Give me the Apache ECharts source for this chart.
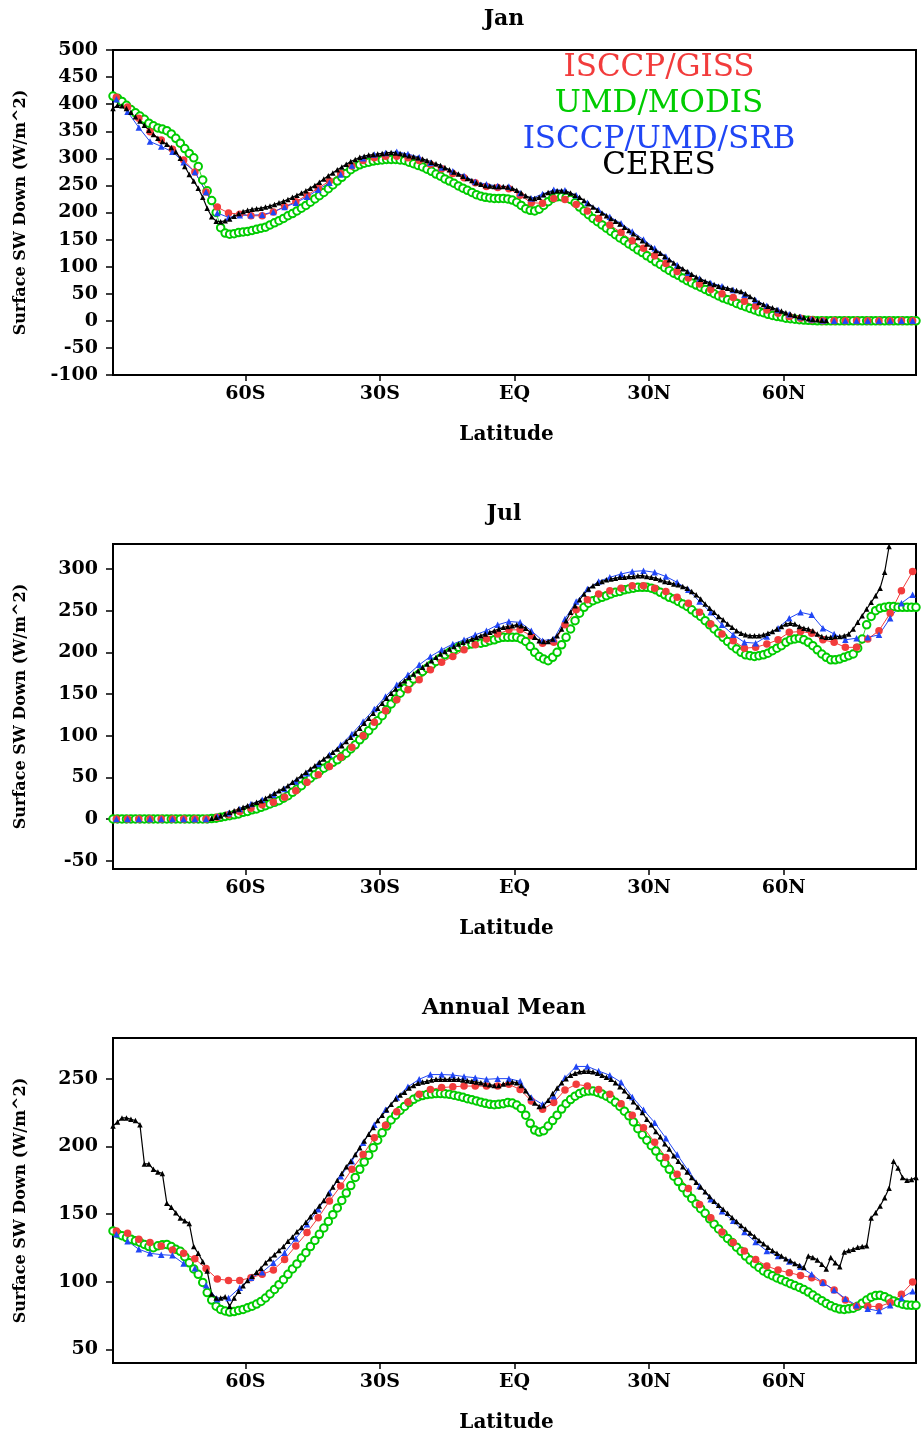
<!DOCTYPE html>
<html><head><meta charset="utf-8">
<script src="https://cdn.jsdelivr.net/npm/echarts@6/dist/echarts.min.js"></script>
<style>html,body{margin:0;padding:0;background:#fff}#c{width:924px;height:1439px}</style>
</head><body><div id="c"></div>
<script>
// ---- labels ----
const seriesNames = ['ISCCP/GISS', 'UMD/MODIS', 'ISCCP/UMD/SRB', 'CERES'];
const panelTitles = ['Jan', 'Jul', 'Annual Mean'];
const xTickValues = [-60, -30, 0, 30, 60];
const xTickLabels = ['60S', '30S', 'EQ', '30N', '60N'];
const yTicksJan = [-100, -50, 0, 50, 100, 150, 200, 250, 300, 350, 400, 450, 500];
const yTicksJul = [-50, 0, 50, 100, 150, 200, 250, 300];
const yTicksAnn = [50, 100, 150, 200, 250];
const xAxisTitle = 'Latitude';
const yAxisTitle = 'Surface SW Down (W/m^2)';

// latitude grids (1 degree and 2.5 degree cell centres)
const lat1 = Array.from({length: 180}, (_, i) => -89.5 + i);
const lat25 = Array.from({length: 72}, (_, i) => -88.75 + 2.5 * i);

// ---- Jan ----
const janGISS = [
  413, 395, 374, 349, 334, 317, 297, 275, 238, 210,
  199, 197, 194, 194, 201, 211, 220, 232, 245, 258,
  272, 286, 296, 301, 304, 304, 301, 296, 289, 281,
  272, 264, 255, 248, 246, 244, 232, 218, 217, 226,
  224, 215, 203, 189, 177, 163, 148, 134, 120, 106,
  91, 79, 68, 58, 50, 43, 36, 27, 20, 14,
  8, 5, 2, 0, 0, 0, 0, 0, 0, 0,
  0, 0];
const janMODIS = [
  415, 411, 405, 398, 390, 384, 378, 372, 365, 360,
  356, 354, 351, 345, 337, 328, 318, 309, 301, 285,
  260, 240, 222, 200, 172, 162, 160, 161, 163, 164,
  165, 167, 169, 171, 173, 177, 181, 185, 189, 194,
  198, 203, 208, 213, 219, 225, 231, 237, 244, 251,
  258, 265, 272, 279, 284, 288, 291, 293, 295, 296,
  297, 298, 298, 298, 297, 296, 293, 290, 287, 284,
  280, 276, 271, 267, 262, 258, 254, 249, 245, 241,
  237, 233, 230, 228, 227, 226, 226, 226, 225, 223,
  219, 213, 207, 204, 203, 206, 213, 220, 226, 229,
  229, 228, 224, 218, 210, 203, 196, 189, 183, 177,
  171, 165, 159, 153, 148, 142, 137, 131, 126, 120,
  115, 109, 104, 98, 93, 88, 84, 79, 74, 70,
  66, 62, 58, 54, 50, 46, 42, 39, 36, 32,
  29, 26, 23, 20, 17, 15, 12, 10, 8, 7,
  5, 4, 3, 2, 1.5, 1, 0.5, 0, 0, 0,
  0, 0, 0, 0, 0, 0, 0, 0, 0, 0,
  0, 0, 0, 0, 0, 0, 0, 0, 0, 0];
const janSRB = [
  409, 386, 357, 331, 322, 312, 293, 275, 238, 199,
  191, 195, 195, 196, 201, 210, 218, 229, 242, 255,
  270, 287, 300, 307, 310, 312, 308, 302, 292, 283,
  276, 268, 257, 252, 249, 248, 236, 226, 234, 242,
  241, 232, 218, 205, 192, 180, 165, 150, 134, 119,
  103, 89, 78, 70, 64, 57, 48, 38, 28, 20,
  12, 7, 3, 0.5, 0, 0, 0, 0, 0, 0,
  0, 0];
const janCERES = [
  392, 398, 397, 392, 385, 377, 369, 361, 352, 344,
  337, 331, 326, 320, 312, 300, 285, 270, 258, 245,
  228, 208, 192, 184, 183, 185, 188, 193, 198, 202,
  204, 206, 207, 208, 210, 212, 215, 218, 221, 224,
  228, 232, 236, 240, 245, 250, 256, 262, 268, 273,
  279, 284, 289, 294, 298, 302, 304, 306, 307, 308,
  309, 310, 311, 310, 309, 307, 305, 303, 301, 299,
  296, 293, 290, 287, 283, 279, 275, 271, 267, 263,
  259, 255, 252, 250, 249, 248, 248, 248, 247, 245,
  241, 236, 231, 227, 226, 228, 233, 237, 239, 240,
  240, 239, 236, 232, 228, 222, 216, 210, 204, 199,
  194, 189, 184, 179, 173, 167, 161, 154, 148, 142,
  136, 130, 125, 119, 113, 107, 101, 96, 91, 86,
  81, 77, 73, 70, 67, 64, 62, 60, 58, 56,
  54, 50, 45, 40, 34, 30, 27, 24, 21, 18,
  15, 12, 10, 8, 6, 4, 3, 2, 1, 0.5,
  null, null, null, null, null, null, null, null, null, null,
  null, null, null, null, null, null, null, null, null, null];

// ---- Jul ----
const julGISS = [
  0, 0, 0, 0, 0, 0, 0, 0, 0, 2,
  5, 9, 13, 17, 20, 26, 34, 44, 53, 63,
  74, 86, 100, 116, 130, 143, 155, 167, 179, 188,
  195, 203, 209, 216, 222, 227, 227, 220, 211, 212,
  233, 251, 263, 270, 274, 277, 280, 280, 277, 273,
  266, 259, 248, 234, 222, 214, 205, 206, 210, 215,
  224, 225, 223, 215, 212, 206, 206, 216, 226, 247,
  274, 297];
const julMODIS = [
  0, 0, 0, 0, 0, 0, 0, 0, 0, 0,
  0, 0, 0, 0, 0, 0, 0, 0, 0, 0,
  0, 0, 0.5, 1, 2, 3, 4, 5, 6, 8,
  9, 11, 12, 14, 16, 18, 20, 22, 25, 28,
  32, 36, 40, 45, 49, 53, 57, 61, 64, 68,
  71, 75, 79, 84, 89, 95, 100, 106, 112, 118,
  124, 131, 138, 144, 151, 157, 163, 168, 173, 177,
  181, 185, 189, 193, 197, 200, 203, 206, 208, 209,
  210, 211, 211, 212, 214, 215, 217, 218, 218, 218,
  218, 216, 213, 207, 200, 195, 192, 190, 194, 200,
  209, 218, 228, 238, 247, 254, 259, 262, 264, 266,
  268, 270, 272, 273, 275, 276, 277, 278, 278, 278,
  277, 275, 272, 269, 266, 264, 261, 258, 255, 251,
  247, 243, 238, 233, 228, 223, 218, 213, 208, 204,
  200, 197, 196, 195, 196, 197, 199, 202, 205, 208,
  212, 215, 216, 217, 215, 212, 208, 203, 198, 194,
  191, 191, 192, 194, 196, 198, 205, 216, 233, 243,
  250, 253, 254, 255, 255, 254, 254, 254, 254, 254];
const julSRB = [
  0, 0, 0, 0, 0, 0, 0, 0, 0, 3,
  7, 12, 18, 23, 29, 36, 45, 55, 66, 77,
  89, 102, 117, 132, 147, 161, 173, 185, 195, 203,
  210, 215, 221, 226, 233, 237, 236, 226, 214, 216,
  240, 261, 276, 285, 290, 294, 297, 298, 296, 291,
  284, 275, 261, 248, 233, 221, 212, 211, 219, 229,
  241, 248, 245, 229, 222, 215, 217, 218, 221, 241,
  259, 269];
const julCERES = [
  null, null, null, null, null, null, null, null, null, null,
  null, null, null, null, null, null, null, null, null, null,
  null, null, 1, 2, 4, 6, 8, 10, 12, 14,
  16, 18, 20, 22, 25, 28, 31, 34, 37, 40,
  44, 48, 52, 56, 60, 64, 68, 72, 76, 80,
  84, 88, 93, 98, 103, 109, 115, 121, 127, 133,
  139, 145, 151, 156, 162, 166, 170, 174, 178, 182,
  186, 190, 194, 198, 201, 204, 207, 210, 212, 214,
  216, 218, 220, 222, 224, 226, 228, 230, 231, 232,
  233, 232, 229, 224, 218, 214, 213, 213, 216, 220,
  228, 238, 248, 256, 263, 270, 276, 280, 283, 285,
  287, 288, 289, 290, 290, 291, 291, 292, 292, 291,
  290, 289, 287, 285, 284, 282, 281, 279, 277, 273,
  269, 264, 258, 253, 248, 243, 239, 234, 230, 226,
  223, 221, 220, 220, 220, 221, 223, 225, 228, 231,
  234, 235, 234, 231, 229, 228, 226, 222, 219, 218,
  218, 219, 219, 220, 222, 228, 236, 244, 252, 260,
  268, 277, 296, 327, null, null, null, null, null, null];

// ---- Annual Mean ----
const annGISS = [
  137.5, 135.8, 131.3, 129, 126.4, 123.4, 121, 117, 109.7, 102,
  101, 101, 103, 105.5, 108.6, 116.5, 126.4, 136.3, 147.3, 159.6,
  170.7, 183, 194, 206.4, 215.5, 225.5, 232.7, 238.4, 242, 243.4,
  244, 244.5, 244.5, 244.5, 244.5, 245.8, 242, 233.5, 227.3, 232.3,
  241.6, 245.8, 244.5, 242, 238.5, 231.5, 223, 213.8, 203, 191.7,
  179.3, 168.8, 157, 147.3, 136.7, 128.9, 122.7, 116.5, 111.6, 108.6,
  106.7, 104.7, 103, 99.3, 93.9, 86.5, 82, 82, 81.6, 84.6,
  90.7, 99.8];
const annMODIS = [
  137.5, 135.5, 134, 132.6, 131.4, 130.2, 129, 127.5, 126, 125.2,
  126.5, 127.3, 127.6, 126, 124, 122.5, 118.5, 114, 109.5, 105.5,
  99.5, 92, 86.5, 82, 79.5, 78.4, 77.6, 78, 78.8, 79.6,
  80.8, 82, 83.5, 85.5, 88, 91, 94.3, 97.8, 101.5, 105.5,
  109.5, 113.2, 117.5, 121.5, 126, 130.5, 135, 139.7, 144.5, 149.5,
  154.5, 160, 165.5, 171, 177, 183, 188.5, 193.5, 199, 204.5,
  210, 215, 219.5, 223, 226.5, 229.5, 232.3, 234.7, 236.5, 237.5,
  238.2, 238.6, 239, 239, 238.8, 238.4, 237.8, 237, 236.2, 235.2,
  234.4, 233.5, 232.6, 231.8, 231, 230.8, 231, 231.5, 232.3, 232,
  230.5, 228, 223, 217, 212, 210.5, 211.5, 215, 219, 223,
  227.5, 231.5, 234.5, 237, 239, 240.3, 240.8, 240.8, 239.8, 238.6,
  237, 235, 232.5, 229.5, 226, 222.5, 218, 213, 208.5, 204.5,
  200.5, 196.5, 192, 187.5, 183, 178, 174, 169.5, 165.5, 161.5,
  157.5, 154, 150.5, 146.5, 142.5, 139, 135.5, 132, 129, 125.5,
  122.5, 119, 116, 113.2, 110.6, 108, 106, 104.5, 102.8, 101.4,
  100, 98.6, 97.2, 95.8, 94.2, 92.4, 90.2, 88, 86, 84,
  82.2, 80.8, 79.8, 79.6, 80, 80.5, 82, 84.2, 86.5, 88.6,
  89.8, 90, 89, 87.2, 85.8, 84.5, 83.4, 82.8, 82.6, 82.6];
const annSRB = [
  135, 130, 124, 121, 120, 119.5, 113.4, 110, 97.5, 87,
  88, 95.6, 103, 107, 114, 121.5, 132, 142.4, 153.5, 166,
  178, 189, 202.7, 216, 227, 236, 244, 249.5, 253, 253,
  252.7, 251.5, 250.7, 249.5, 250, 250, 248, 236, 231, 237,
  250.7, 259, 259, 255.6, 252.5, 247.3, 236.5, 227, 217.5, 206,
  194, 182, 170.7, 161, 152, 145, 136.7, 129.3, 122.7, 119,
  115, 111, 105.5, 99.3, 94, 87.5, 82.6, 80, 78.4, 82.6,
  88, 93];
const annCERES = [
  215, 218, 221, 221, 220, 219, 216, 187, 187, 183,
  181, 180, 158, 155, 151, 147, 145, 143, 126, 121,
  115, 108, 91, 88, 88, 89, 82, 88, 93, 97,
  101, 104, 107, 110, 114, 117, 120, 123, 126, 130,
  133, 137, 140, 144, 148, 152, 156, 160, 165, 170,
  175, 180, 185, 189, 194, 199, 204, 209, 214, 219,
  223, 227, 231, 235, 238, 240, 243, 245, 246.5, 247.5,
  248, 249, 249.5, 249.5, 249.5, 249.5, 249.5, 249.5, 249, 248.5,
  248, 247.5, 247, 246, 245.5, 245, 245, 246, 247, 247.5,
  247, 245, 241, 236, 232, 229.5, 230, 234, 239, 243,
  247, 250, 252.5, 254, 255, 255.5, 255.5, 255, 254, 252.5,
  251, 249.5, 247, 244, 241, 237, 233, 229, 225, 220,
  216, 211, 207, 202, 198, 193, 189, 185, 181, 177,
  173.5, 170, 166.5, 163, 159.5, 156.5, 153.5, 150.5, 147.5, 144.5,
  141.5, 139, 136, 133.5, 130.5, 128, 125.5, 123, 121, 119,
  117, 115.5, 113.5, 112, 110.5, 119, 118, 116, 113, 109.5,
  118, 114, 111, 122, 123, 124, 125.5, 126, 126.5, 147,
  151, 156, 162, 169, 189, 184, 177, 175, 175.5, 177];

// sanity check of array lengths
[[janGISS,72],[janSRB,72],[julGISS,72],[julSRB,72],[annGISS,72],[annSRB,72],
 [janMODIS,180],[janCERES,180],[julMODIS,180],[julCERES,180],[annMODIS,180],[annCERES,180]]
 .forEach(([a,n],k)=>{ if(a.length!==n) throw new Error('array '+k+' has length '+a.length); });

// ---- styling ----
const C_RED = '#f23c3c', C_GREEN = '#00cc00', C_BLUE = '#2046f5', C_BLACK = '#000000';
const SERIF = "'DejaVu Serif', 'Liberation Serif', serif";

const panels = [
  {title: panelTitles[0], top: 50, ymin: -100, ymax: 500, ticks: yTicksJan,
   giss: janGISS, modis: janMODIS, srb: janSRB, ceres: janCERES, titleY: 19},
  {title: panelTitles[1], top: 544, ymin: -60, ymax: 330, ticks: yTicksJul,
   giss: julGISS, modis: julMODIS, srb: julSRB, ceres: julCERES, titleY: 514},
  {title: panelTitles[2], top: 1038, ymin: 40, ymax: 280, ticks: yTicksAnn,
   giss: annGISS, modis: annMODIS, srb: annSRB, ceres: annCERES, titleY: 1008}
];
const GL = 113, GW = 803, GH = 325;

const pairs = (xs, ys) => xs.map((x, i) => [x, ys[i]]);
const grid = [], xAxis = [], yAxis = [], series = [], graphic = [];

panels.forEach((p, k) => {
  grid.push({left: GL, top: p.top, width: GW, height: GH, show: true,
    borderColor: '#000', borderWidth: 2, backgroundColor: '#fff',
    containLabel: false, outerBoundsMode: 'none'});
  xAxis.push({type: 'value', gridIndex: k, min: -89.5, max: 89.5,
    name: xAxisTitle, nameLocation: 'middle', nameGap: 50,
    nameTextStyle: {fontFamily: SERIF, fontWeight: 'bold', fontSize: 20, color: '#000', padding: [0, 16, 0, 0]},
    axisLine: {show: true, onZero: false, lineStyle: {color: '#000', width: 2}},
    axisTick: {show: true, inside: false, length: 6, customValues: xTickValues, lineStyle: {color: '#000', width: 1.5}},
    axisLabel: {show: true, margin: 10, customValues: xTickValues,
      formatter: v => xTickLabels[xTickValues.indexOf(v)],
      fontFamily: SERIF, fontWeight: 'bold', fontSize: 19, color: '#000'},
    splitLine: {show: false}});
  yAxis.push({type: 'value', gridIndex: k, min: p.ymin, max: p.ymax,
    name: yAxisTitle, nameLocation: 'middle', nameGap: 84, nameRotate: 90,
    nameTextStyle: {fontFamily: SERIF, fontWeight: 'bold', fontSize: 16, color: '#000'},
    axisLine: {show: true, onZero: false, lineStyle: {color: '#000', width: 2}},
    axisTick: {show: true, inside: false, length: 7, customValues: p.ticks, lineStyle: {color: '#000', width: 1.5}},
    axisLabel: {show: true, margin: 15, customValues: p.ticks,
      fontFamily: SERIF, fontWeight: 'bold', fontSize: 19, color: '#000'},
    splitLine: {show: false}});

  const common = {type: 'line', xAxisIndex: k, yAxisIndex: k, showSymbol: true,
    showAllSymbol: true, animation: false, clip: true, connectNulls: false, silent: true};
  // drawing order: MODIS (bottom), GISS, SRB, CERES (top)
  series.push(Object.assign({}, common, {name: seriesNames[1], data: pairs(lat1, p.modis),
    symbol: 'emptyCircle', symbolSize: 7.5,
    itemStyle: {color: C_GREEN, borderColor: C_GREEN, borderWidth: 0.6},
    lineStyle: {color: C_GREEN, width: 0.8}}));
  series.push(Object.assign({}, common, {name: seriesNames[0], data: pairs(lat25, p.giss),
    symbol: 'circle', symbolSize: 7.5,
    itemStyle: {color: C_RED},
    lineStyle: {color: C_RED, width: 1}}));
  series.push(Object.assign({}, common, {name: seriesNames[2], data: pairs(lat25, p.srb),
    symbol: 'triangle', symbolSize: 6.5,
    itemStyle: {color: C_BLUE},
    lineStyle: {color: C_BLUE, width: 1}}));
  series.push(Object.assign({}, common, {name: seriesNames[3], data: pairs(lat1, p.ceres),
    symbol: 'triangle', symbolSize: 5.5,
    itemStyle: {color: C_BLACK},
    lineStyle: {color: C_BLACK, width: 1.2}}));

  graphic.push({type: 'text', x: 504, y: p.titleY, silent: true,
    style: {text: p.title, fontFamily: SERIF, fontWeight: 'bold', fontSize: 22,
      fill: '#000', align: 'center', verticalAlign: 'middle'}});
});

// legend as coloured text lines in the first panel
const legendColors = [C_RED, C_GREEN, C_BLUE, C_BLACK];
const legendY = [68, 104, 140, 166];
seriesNames.forEach((n, i) => {
  graphic.push({type: 'text', x: 659, y: legendY[i], silent: true, z: 100,
    style: {text: n, fontFamily: SERIF, fontSize: 31, fill: legendColors[i],
      align: 'center', verticalAlign: 'middle'}});
});

const chart = echarts.init(document.getElementById('c'), null, {renderer: 'canvas', width: 924, height: 1439});
chart.setOption({backgroundColor: '#fff', animation: false,
  grid, xAxis, yAxis, series, graphic});
</script></body></html>
